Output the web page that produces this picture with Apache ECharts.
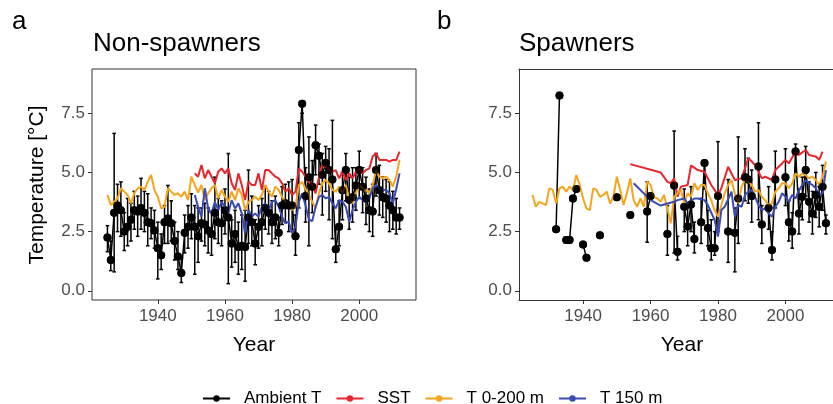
<!DOCTYPE html>
<html>
<head>
<meta charset="utf-8">
<script src="https://cdn.jsdelivr.net/npm/echarts@6/dist/echarts.min.js"></script>
<style>
html,body{margin:0;padding:0;background:#fff;}
#chart{width:833px;height:404px;}
</style>
</head>
<body>
<div id="chart"></div>
<script>
// ---------------- Data ----------------
const seriesNames = ['Ambient T', 'SST', 'T 0-200 m', 'T 150 m'];
const xTickLabels = [1940, 1960, 1980, 2000];
const yTickLabels = [0, 2.5, 5, 7.5];

// Panel a: Non-spawners
const aYears = [1925,1926,1927,1928,1929,1930,1931,1932,1933,1934,1935,1936,1937,1938,1939,1940,1941,1942,1943,1944,1945,1946,1947,1948,1949,1950,1951,1952,1953,1954,1955,1956,1957,1958,1959,1960,1961,1962,1963,1964,1965,1966,1967,1968,1969,1970,1971,1972,1973,1974,1975,1976,1977,1978,1979,1980,1981,1982,1983,1984,1985,1986,1987,1988,1989,1990,1991,1992,1993,1994,1995,1996,1997,1998,1999,2000,2001,2002,2003,2004,2005,2006,2007,2008,2009,2010,2011,2012];
const aAmbient = [2.25,1.3,3.3,3.6,3.4,2.5,2.7,3.0,3.4,3.35,3.5,3.3,2.9,2.85,2.55,1.8,1.5,2.9,3.05,2.85,2.1,1.45,0.75,2.45,2.7,3.1,2.7,2.3,2.85,2.8,2.55,2.4,3.3,2.9,2.85,3.4,3.1,2.0,2.4,1.85,1.9,1.85,3.1,2.9,2.0,2.7,2.9,3.5,3.3,2.9,3.1,2.45,3.6,3.7,3.6,3.6,2.3,5.95,7.9,4.0,4.8,4.4,6.15,5.7,4.9,5.4,5.1,4.7,1.75,2.7,4.25,5.1,3.85,3.95,4.45,5.1,4.4,3.9,3.4,3.35,5.1,4.25,3.95,3.9,3.6,3.4,3.1,3.1];
const aAmbientLo = [1.65,0.85,0.8,2.5,2.3,1.7,1.9,2.1,2.6,2.3,2.6,2.5,1.9,2.2,1.8,0.5,0.9,2.0,2.0,2.1,1.3,0.9,0.35,1.6,1.8,2.2,0.7,1.2,2.1,1.9,1.6,1.5,2.2,2.0,1.9,2.4,0.3,1.0,1.2,0.7,0.9,0.4,2.0,1.9,1.1,1.8,1.9,2.6,2.4,2.0,2.2,1.9,2.8,2.9,2.5,2.6,1.5,3.5,7.5,2.9,1.9,3.3,4.9,4.5,3.2,4.2,3.0,2.2,1.2,1.9,3.0,3.8,2.6,2.9,3.4,3.9,3.3,2.8,2.5,2.3,4.0,3.2,3.1,2.9,2.5,2.6,2.4,2.6];
const aAmbientHi = [2.75,2.1,6.65,4.5,4.6,3.3,3.9,3.7,4.2,4.0,4.75,4.2,4.1,3.5,3.4,2.9,2.4,3.6,4.45,3.8,2.9,2.5,1.4,3.2,3.6,4.1,3.6,3.5,3.5,3.7,3.5,3.3,4.8,3.9,3.8,4.3,5.8,3.0,3.4,2.9,3.2,3.4,5.1,4.0,3.0,3.6,3.9,4.4,4.2,3.8,4.0,3.1,4.4,4.5,4.6,4.7,3.2,7.1,8.0,5.2,6.5,5.5,7.0,6.2,5.8,6.1,6.0,7.2,2.7,3.8,5.0,5.8,4.8,5.2,5.2,5.9,5.2,4.8,4.3,4.5,5.8,5.3,4.8,4.7,4.6,4.2,3.9,3.5];
const aT0200 = [4.05,3.62,3.76,3.9,4.33,4.19,4.05,3.69,4.12,4.33,4.4,4.26,4.6,4.89,4.26,3.97,3.48,3.55,4.33,4.19,4.05,4.12,3.97,4.19,3.83,4.82,4.47,4.15,4.47,3.83,4.12,4.33,4.47,3.9,4.26,3.97,3.76,4.19,3.83,4.33,4.05,3.41,3.76,3.83,3.97,3.83,4.05,4.47,4.19,3.97,4.4,4.26,3.97,3.76,3.69,3.41,3.55,4.47,4.6,4.3,4.05,3.76,3.48,4.12,4.54,4.68,4.54,4.26,4.19,4.4,4.12,4.47,3.9,3.69,4.12,4.47,4.33,4.26,4.12,4.47,5.1,4.82,4.75,4.82,4.68,4.4,4.82,5.53];
const aSSTYears = [1951,1952,1953,1954,1955,1956,1957,1958,1959,1960,1961,1962,1963,1964,1965,1966,1967,1968,1969,1970,1971,1972,1973,1974,1975,1976,1977,1978,1979,1980,1981,1982,1983,1984,1985,1986,1987,1988,1989,1990,1991,1992,1993,1994,1995,1996,1997,1998,1999,2000,2001,2002,2003,2004,2005,2006,2007,2008,2009,2010,2011,2012];
const aSST = [4.96,4.82,5.31,4.75,5.1,4.82,4.54,5.03,5.17,4.96,5.17,4.54,4.26,4.96,4.47,3.83,4.61,4.47,4.47,4.96,4.26,5.1,5.1,4.96,4.82,4.75,4.54,4.19,4.33,4.05,4.19,5.17,5.03,4.82,4.6,4.47,4.12,4.82,5.31,5.24,5.1,5.03,5.1,4.75,5.03,4.68,4.96,4.75,5.03,5.17,4.96,5.1,5.17,5.67,5.81,5.53,5.53,5.53,5.46,5.53,5.53,5.88];
const aT150 = [4.05,3.55,3.13,4.33,3.48,3.26,3.76,3.41,3.76,3.55,3.27,3.83,3.48,3.69,3.27,2.43,3.41,3.13,3.27,3.13,3.55,3.69,3.41,3.76,3.83,3.55,3.13,2.85,2.92,2.43,2.71,3.76,4.12,3.6,3.0,2.95,3.55,3.97,4.05,3.9,3.97,3.69,3.48,3.83,3.76,3.55,2.92,3.41,3.76,3.97,3.83,3.76,3.9,4.33,4.47,4.33,4.26,4.26,4.12,3.69,4.3,4.96];

// Panel b: Spawners (null = no observation that year)
const bYears = [1932,1933,1934,1935,1936,1937,1938,1939,1940,1941,1942,1943,1944,1945,1946,1947,1948,1949,1950,1951,1952,1953,1954,1955,1956,1957,1958,1959,1960,1961,1962,1963,1964,1965,1966,1967,1968,1969,1970,1971,1972,1973,1974,1975,1976,1977,1978,1979,1980,1981,1982,1983,1984,1985,1986,1987,1988,1989,1990,1991,1992,1993,1994,1995,1996,1997,1998,1999,2000,2001,2002,2003,2004,2005,2006,2007,2008,2009,2010,2011,2012];
const bAmbient = [2.6,8.25,null,2.15,2.15,3.9,4.3,null,1.95,1.4,null,null,null,2.35,null,null,null,null,3.95,null,null,null,3.2,null,null,null,null,3.35,4.0,null,null,null,null,2.4,null,4.45,1.65,null,3.55,2.72,3.65,2.19,null,2.9,5.4,2.65,1.8,1.8,4.0,null,null,2.5,null,2.45,3.9,null,4.8,4.7,4.0,null,5.25,2.8,null,3.5,1.72,4.7,null,null,4.8,2.9,2.5,5.88,3.27,3.97,5.1,3.76,3.27,4.05,3.55,4.4,2.85];
const bAmbientLo = [null,null,null,null,null,null,null,null,null,null,null,null,null,null,null,null,null,null,null,null,null,null,null,null,null,null,null,2.05,null,null,null,null,null,1.5,null,1.6,1.3,null,2.5,1.9,2.5,1.6,null,2.0,4.3,1.9,1.3,1.5,2.5,null,null,1.2,null,0.8,2.0,null,3.8,3.7,2.9,null,3.0,2.0,null,2.6,1.3,3.5,null,null,3.6,2.1,1.8,4.9,2.4,3.0,4.0,2.9,2.4,3.1,2.7,3.4,2.4];
const bAmbientHi = [null,null,null,null,null,null,null,null,null,null,null,null,null,null,null,null,null,null,null,null,null,null,null,null,null,null,null,4.6,null,null,null,null,null,3.6,null,6.75,2.3,null,4.3,3.5,4.4,2.9,null,3.9,5.5,3.4,3.0,2.5,6.3,null,null,4.7,null,3.5,6.5,null,6.0,5.6,5.1,null,7.1,3.6,null,4.4,2.5,5.9,null,null,6.0,3.8,3.3,6.2,4.3,4.8,6.1,4.6,4.2,5.0,4.4,5.3,3.2];
const bT0200Years = [1925,1926,1927,1928,1929,1930,1931,1932,1933,1934,1935,1936,1937,1938,1939,1940,1941,1942,1943,1944,1945,1946,1947,1948,1949,1950,1951,1952,1953,1954,1955,1956,1957,1958,1959,1960,1961,1962,1963,1964,1965,1966,1967,1968,1969,1970,1971,1972,1973,1974,1975,1976,1977,1978,1979,1980,1981,1982,1983,1984,1985,1986,1987,1988,1989,1990,1991,1992,1993,1994,1995,1996,1997,1998,1999,2000,2001,2002,2003,2004,2005,2006,2007,2008,2009,2010,2011,2012];
const bT0200 = [4.05,3.55,3.76,3.69,3.62,4.33,4.26,3.69,4.33,4.4,4.19,4.4,4.26,4.89,4.47,3.9,3.48,3.41,4.33,4.26,3.97,4.05,4.19,3.69,3.97,4.82,4.26,3.62,4.12,4.75,3.83,3.55,3.9,3.55,4.61,4.47,3.97,3.9,3.76,4.05,3.48,2.85,3.97,4.12,4.26,3.69,4.12,3.97,4.54,4.26,4.47,4.47,4.12,3.83,3.41,3.13,3.62,4.12,4.47,4.68,4.1,3.69,4.4,4.68,4.61,4.47,4.19,4.26,3.97,3.83,3.62,3.69,4.19,4.33,4.54,4.54,4.33,4.54,4.96,4.82,4.96,4.89,4.75,4.82,4.68,4.47,4.82,5.46];
const bSSTYears = [1954,1963,1965,1966,1967,1968,1969,1971,1972,1974,1976,1978,1980,1981,1983,1985,1987,1989,1990,1991,1993,1994,1996,1997,1999,2000,2001,2003,2004,2006,2007,2009,2010,2011];
const bSST = [5.35,5.0,4.6,4.55,4.75,3.97,4.4,4.47,5.3,5.1,5.03,4.47,4.05,4.33,5.24,4.68,4.75,5.6,5.46,5.31,4.75,4.82,4.68,5.1,5.38,5.53,5.38,5.88,5.74,5.95,5.74,5.67,5.53,5.88];
const bT150Years = [1955,1960,1963,1965,1967,1968,1970,1971,1973,1974,1976,1977,1979,1980,1981,1982,1984,1985,1986,1987,1988,1989,1990,1991,1992,1993,1994,1995,1996,1997,1998,1999,2000,2001,2002,2003,2004,2005,2006,2007,2008,2009,2010,2011,2012];
const bT150 = [4.54,3.83,3.6,3.69,3.76,3.83,3.9,3.69,3.9,3.9,3.83,3.62,2.99,2.29,3.41,3.55,4.19,3.13,3.62,3.55,4.05,4.19,4.26,3.97,3.62,3.41,3.48,3.27,3.13,3.55,3.76,4.12,3.97,3.76,4.05,3.9,4.26,4.47,4.68,4.54,4.47,4.33,4.05,4.12,5.1];

// ---------------- Build ----------------
const FONT = '"Liberation Sans", Arial, Helvetica, sans-serif';
const C_BLACK = '#000000', C_RED = '#e8262b', C_ORANGE = '#f5a51d', C_BLUE = '#3a4bb3';
const FRAME = '#333333';

function pairs(xs, ys) { return xs.map((x, i) => [x, ys[i]]); }
function bars(xs, lo, hi) {
  const out = [];
  xs.forEach((x, i) => { if (lo[i] != null && hi[i] != null) out.push([x, lo[i], hi[i]]); });
  return out;
}
function errRender(params, api) {
  const x = api.value(0);
  const pHi = api.coord([x, api.value(2)]);
  const pLo = api.coord([x, api.value(1)]);
  const w = 1.8;
  const st = { stroke: C_BLACK, lineWidth: 1.5 };
  return { type: 'group', children: [
    { type: 'line', shape: { x1: pHi[0], y1: pHi[1], x2: pLo[0], y2: pLo[1] }, style: st },
    { type: 'line', shape: { x1: pHi[0] - w, y1: pHi[1], x2: pHi[0] + w, y2: pHi[1] }, style: st },
    { type: 'line', shape: { x1: pLo[0] - w, y1: pLo[1], x2: pLo[0] + w, y2: pLo[1] }, style: st }
  ]};
}

function xAx(gi, min, max, showLine) {
  return {
    type: 'value', gridIndex: gi, min: min, max: max, position: 'bottom',
    axisLine: { show: showLine, onZero: false, lineStyle: { color: FRAME, width: 1 } },
    splitLine: { show: false },
    axisTick: { show: true, length: 4, lineStyle: { color: FRAME, width: 1 }, customValues: xTickLabels },
    axisLabel: { show: true, fontFamily: FONT, fontSize: 17, color: '#4d4d4d', margin: 8, customValues: xTickLabels, formatter: v => String(v) }
  };
}
function yAx(gi, showLine) {
  return {
    type: 'value', gridIndex: gi, min: -0.39, max: 9.37, position: 'left',
    axisLine: { show: showLine, onZero: false, lineStyle: { color: FRAME, width: 1 } },
    splitLine: { show: false },
    axisTick: { show: true, length: 4, lineStyle: { color: FRAME, width: 1 }, customValues: yTickLabels },
    axisLabel: { show: true, fontFamily: FONT, fontSize: 17, color: '#4d4d4d', margin: 7, customValues: yTickLabels, formatter: v => v.toFixed(1) }
  };
}
// top frame line of panel b (its right edge lies beyond the picture)
const topAxisB = {
  type: 'value', gridIndex: 1, position: 'top', min: 1921.0, max: 2014.1,
  axisLine: { show: true, onZero: false, lineStyle: { color: FRAME, width: 1 } },
  axisTick: { show: false }, axisLabel: { show: false }, splitLine: { show: false }
};

const series = [];
function addPanel(idx, amb, err, sst, t0200, t150) {
  series.push({ type: 'custom', name: 'err' + idx, xAxisIndex: idx, yAxisIndex: idx, renderItem: errRender, data: err, encode: { x: 0, y: [1, 2] }, z: 1, silent: true });
  series.push({ type: 'line', name: seriesNames[0], xAxisIndex: idx, yAxisIndex: idx, data: amb, connectNulls: false, symbol: 'circle', symbolSize: 8, showSymbol: true, itemStyle: { color: C_BLACK }, lineStyle: { color: C_BLACK, width: 1.5 }, z: 2 });
  series.push({ type: 'line', name: seriesNames[1], xAxisIndex: idx, yAxisIndex: idx, data: sst, symbol: 'circle', symbolSize: 6, showSymbol: false, itemStyle: { color: C_RED }, lineStyle: { color: C_RED, width: 2 }, z: 3 });
  series.push({ type: 'line', name: seriesNames[2], xAxisIndex: idx, yAxisIndex: idx, data: t0200, symbol: 'circle', symbolSize: 6, showSymbol: false, itemStyle: { color: C_ORANGE }, lineStyle: { color: C_ORANGE, width: 2 }, z: 4 });
  series.push({ type: 'line', name: seriesNames[3], xAxisIndex: idx, yAxisIndex: idx, data: t150, symbol: 'circle', symbolSize: 6, showSymbol: false, itemStyle: { color: C_BLUE }, lineStyle: { color: C_BLUE, width: 2 }, z: 5 });
  series.push({ type: 'scatter', name: 'pts' + idx, xAxisIndex: idx, yAxisIndex: idx, data: amb.filter(d => d[1] != null), symbol: 'circle', symbolSize: 8, itemStyle: { color: C_BLACK }, z: 6, silent: true });
}
addPanel(0, pairs(aYears, aAmbient), bars(aYears, aAmbientLo, aAmbientHi), pairs(aSSTYears, aSST), pairs(aYears, aT0200), pairs(aSSTYears, aT150));
addPanel(1, pairs(bYears, bAmbient), bars(bYears, bAmbientLo, bAmbientHi), pairs(bSSTYears, bSST), pairs(bT0200Years, bT0200), pairs(bT150Years, bT150));

const txt = (x, y, s, size) => ({ type: 'text', x: x, y: y, silent: true,
  style: { text: s, font: size + 'px ' + FONT, fill: '#000', textAlign: 'left', textVerticalAlign: 'middle' } });

const option = {
  animation: false,
  backgroundColor: '#ffffff',
  grid: [
    { left: 92, top: 69, width: 324, height: 231, show: true, borderColor: FRAME, borderWidth: 1, backgroundColor: 'transparent' },
    { left: 519, top: 69, right: 0, height: 231, show: false }
  ],
  xAxis: [xAx(0, 1920.4, 2016.9, false), xAx(1, 1921.0, 2014.1, true), topAxisB],
  yAxis: [yAx(0, false), yAx(1, true)],
  legend: {
    data: seriesNames,
    left: 197, top: 385,
    itemWidth: 27, itemHeight: 8, itemGap: 14,
    textStyle: { fontFamily: FONT, fontSize: 17, color: '#000', padding: [0, 0, 0, 9] },
    selectedMode: false
  },
  graphic: [
    txt(12, 22, 'a', 26),
    txt(437, 22, 'b', 26),
    txt(93, 44, 'Non-spawners', 26),
    txt(519, 44, 'Spawners', 26),
    { type: 'text', x: 37, y: 185, rotation: Math.PI / 2, silent: true,
      style: { text: 'Temperature [°C]', font: '21px ' + FONT, fill: '#000', textAlign: 'center', textVerticalAlign: 'middle' } },
    { type: 'text', x: 254, y: 345, silent: true, style: { text: 'Year', font: '21px ' + FONT, fill: '#000', textAlign: 'center', textVerticalAlign: 'middle' } },
    { type: 'text', x: 682, y: 345, silent: true, style: { text: 'Year', font: '21px ' + FONT, fill: '#000', textAlign: 'center', textVerticalAlign: 'middle' } }
  ],
  series: series
};

const chart = echarts.init(document.getElementById('chart'), null, { renderer: 'canvas' });
chart.setOption(option);
</script>
</body>
</html>
